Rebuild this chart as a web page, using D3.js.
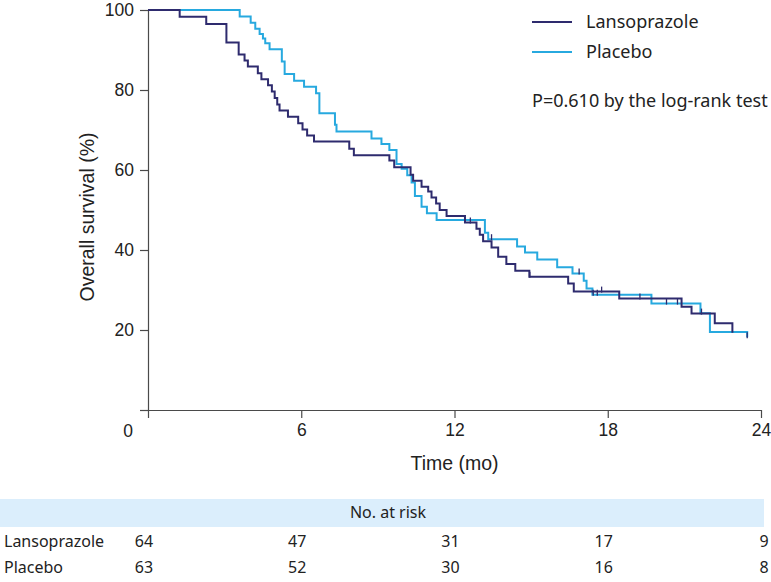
<!DOCTYPE html>
<html>
<head>
<meta charset="utf-8">
<script src="https://cdn.jsdelivr.net/npm/d3@7"></script>
<style>
    body { margin: 0; background: #fff; }
    svg { display: block; }
    .axis path, .axis line { stroke: #4a4a4a; stroke-width: 1.2; }
    .axis text { font-family: "Liberation Sans", Arial, sans-serif; font-size: 17.5px; fill: #222; }
    .ttl { font-family: "Liberation Sans", Arial, sans-serif; font-size: 19.5px; fill: #222; }
    .lgd { font-family: "Noto Sans", sans-serif; font-size: 18px; fill: #222; }
    .risk { font-family: "Noto Sans", sans-serif; font-size: 16px; fill: #222; }
</style>
</head>
<body>
<div id="chart"></div>
<script>
var groups = ['Lansoprazole', 'Placebo'];
var colors = ['#2e2b6e', '#27a9df'];

var lansoTime = [0, 1.24, 2.28, 3.07, 3.55, 3.78, 3.91, 4.30, 4.44, 4.70, 4.85, 4.96, 5.06, 5.15, 5.48,
    5.88, 6.05, 6.23, 6.50, 7.88, 8.06, 9.45, 9.64, 10.28, 10.38, 10.71, 10.97, 11.10, 11.28, 11.42,
    11.69, 12.41, 12.86, 12.99, 13.12, 13.45, 13.71, 14.03, 14.38, 14.93, 16.45, 16.67, 18.45, 20.89,
    21.28, 22.19, 22.88];
var lansoSurv = [100, 98.3, 96.5, 91.9, 88.9, 87.4, 85.9, 84.2, 82.7, 81.2, 79.6, 78.0, 76.4, 74.9, 73.3,
    71.7, 70.1, 68.6, 67.1, 65.3, 63.7, 62.4, 60.7, 58.8, 57.3, 55.8, 54.6, 53.1, 51.6, 50.0,
    48.5, 46.9, 45.3, 43.8, 42.2, 40.6, 38.3, 36.5, 34.8, 33.3, 31.6, 29.6, 27.9, 25.8,
    24.1, 21.7, 19.3];

var placeboTime = [0, 3.59, 4.02, 4.20, 4.37, 4.50, 4.59, 4.76, 5.24, 5.35, 5.72, 6.11, 6.58, 6.71, 7.32,
    7.38, 8.75, 9.14, 9.45, 9.73, 9.93, 10.15, 10.32, 10.45, 10.71, 10.92, 11.30, 13.19, 13.32, 14.45,
    14.76, 15.24, 16.02, 16.62, 17.06, 17.17, 17.40, 19.71, 21.63, 22.00, 23.46];
var placeboSurv = [100, 98.4, 96.8, 95.3, 94.0, 92.9, 91.7, 90.2, 87.1, 84.0, 82.3, 80.8, 79.2, 74.2, 71.3,
    69.6, 67.9, 66.5, 65.0, 61.5, 60.3, 58.7, 56.9, 53.5, 50.8, 49.2, 47.5, 44.3, 42.7, 40.9,
    39.4, 37.6, 35.7, 34.1, 32.3, 30.4, 28.8, 26.6, 24.2, 19.5, 18.2];

var lansoCensor = [12.62, 14.95, 17.76, 19.26, 21.67];
var placeboCensor = [13.45, 16.88, 17.43, 17.59, 20.30, 20.73, 23.46];

var xTicks = [0, 6, 12, 18, 24];
var yTicks = [0, 20, 40, 60, 80, 100];
var pText = 'P=0.610 by the log-rank test';
var riskTitle = 'No. at risk';
var lansoRisk = [64, 47, 31, 17, 9];
var placeboRisk = [63, 52, 30, 16, 8];

var width = 771, height = 582;
var svg = d3.select('#chart').append('svg')
    .attr('width', width)
    .attr('height', height);

var x = d3.scaleLinear().domain([0, 24]).range([148, 761]);
var y = d3.scaleLinear().domain([0, 100]).range([410, 10]);

var noZero = function (d) { return d === 0 ? '' : d; };

svg.append('g')
    .attr('class', 'axis')
    .attr('transform', 'translate(0,' + y(0) + ')')
    .call(d3.axisBottom(x).tickValues(xTicks).tickSize(8).tickSizeOuter(0).tickPadding(6).tickFormat(noZero));

svg.append('g')
    .attr('class', 'axis')
    .attr('transform', 'translate(' + x(0) + ',0)')
    .call(d3.axisLeft(y).tickValues(yTicks).tickSize(8).tickSizeOuter(0).tickPadding(6).tickFormat(noZero));

svg.append('text')
    .attr('class', 'axis ttl')
    .attr('x', x(0) - 20)
    .attr('y', y(0) + 27)
    .attr('text-anchor', 'middle')
    .style('font-size', '17.5px')
    .text('0');

svg.append('text')
    .attr('class', 'ttl')
    .attr('x', (x(0) + x(24)) / 2)
    .attr('y', 470)
    .attr('text-anchor', 'middle')
    .text('Time (mo)');

svg.append('text')
    .attr('class', 'ttl')
    .attr('transform', 'translate(94,217) rotate(-90)')
    .attr('text-anchor', 'middle')
    .text('Overall survival (%)');

var line = d3.line()
    .x(function (d) { return x(d[0]); })
    .y(function (d) { return y(d[1]); })
    .curve(d3.curveStepAfter);

function survAt(times, surv, t) {
    var i = d3.bisectRight(times, t) - 1;
    return surv[Math.max(0, i)];
}

function drawCurve(times, surv, censor, color) {
    var pts = d3.zip(times, surv);
    svg.append('path')
        .datum(pts)
        .attr('fill', 'none')
        .attr('stroke', color)
        .attr('stroke-width', 2)
        .attr('d', line);

    svg.selectAll(null)
        .data(censor)
        .enter().append('line')
        .attr('x1', function (d) { return x(d); })
        .attr('x2', function (d) { return x(d); })
        .attr('y1', function (d) { return y(survAt(times, surv, d)) - 5; })
        .attr('y2', function (d) { return y(survAt(times, surv, d)) + 1; })
        .attr('stroke', '#2e2b6e')
        .attr('stroke-width', 1.3);
}

drawCurve(placeboTime, placeboSurv, placeboCensor, colors[1]);
drawCurve(lansoTime, lansoSurv, lansoCensor, colors[0]);

// legend
var legend = svg.append('g');
groups.forEach(function (name, i) {
    var ly = 22 + i * 30;
    legend.append('line')
        .attr('x1', 532).attr('x2', 572)
        .attr('y1', ly).attr('y2', ly)
        .attr('stroke', colors[i])
        .attr('stroke-width', 2);
    legend.append('text')
        .attr('class', 'lgd')
        .attr('x', 586)
        .attr('y', ly + 6)
        .text(name);
});

svg.append('text')
    .attr('class', 'lgd')
    .attr('x', 532)
    .attr('y', 107)
    .text(pText);

// number at risk table
svg.append('rect')
    .attr('x', 0).attr('y', 499)
    .attr('width', 764).attr('height', 28)
    .attr('fill', '#dbeefc');

svg.append('text')
    .attr('class', 'risk')
    .attr('x', 388)
    .attr('y', 518)
    .attr('text-anchor', 'middle')
    .text(riskTitle);

[lansoRisk, placeboRisk].forEach(function (row, r) {
    var ry = 547 + r * 26;
    svg.append('text')
        .attr('class', 'risk')
        .attr('x', 4)
        .attr('y', ry)
        .text(groups[r]);
    svg.selectAll(null)
        .data(row)
        .enter().append('text')
        .attr('class', 'risk')
        .attr('x', function (d, i) { return i === xTicks.length - 1 ? x(xTicks[i]) + 3 : x(xTicks[i]) - 4; })
        .attr('y', ry)
        .attr('text-anchor', 'middle')
        .text(function (d) { return d; });
});
</script>
</body>
</html>
